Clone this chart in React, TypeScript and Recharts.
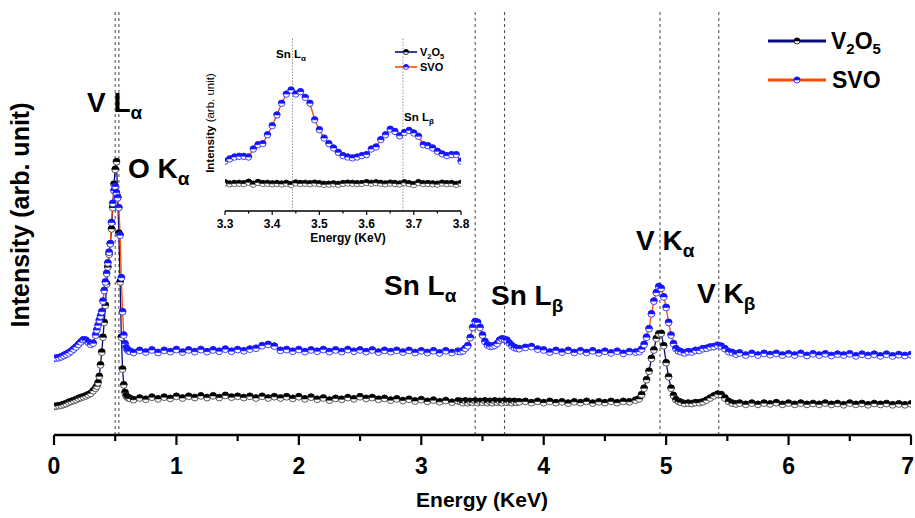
import React from 'react';
import { LineChart, Line, XAxis, YAxis, ReferenceLine } from 'recharts';

const FONT = "'Liberation Sans', Arial, Helvetica, sans-serif";

// ---- main spectrum (energy in keV, intensity in arbitrary units) ----
const energy = [
  0, 0.02, 0.04, 0.06, 0.08, 0.1, 0.12, 0.14, 0.16, 0.18, 0.2, 0.22, 0.24, 0.26, 0.28, 0.3, 0.32,
  0.34, 0.35, 0.36, 0.37, 0.38, 0.39, 0.4, 0.41, 0.42, 0.43, 0.44, 0.45, 0.46, 0.47, 0.48, 0.49, 0.5,
  0.51, 0.52, 0.53, 0.54, 0.55, 0.56, 0.57, 0.58, 0.59, 0.6, 0.61, 0.62,
  0.65, 0.7, 0.75, 0.8, 0.85, 0.9, 0.95,
  1.0, 1.05, 1.1, 1.15, 1.2, 1.25, 1.3, 1.35, 1.4, 1.45, 1.5, 1.55, 1.6, 1.65, 1.7, 1.75, 1.8, 1.85, 1.9, 1.95,
  2.0, 2.05, 2.1, 2.15, 2.2, 2.25, 2.3, 2.35, 2.4, 2.45, 2.5, 2.55, 2.6, 2.65, 2.7, 2.75, 2.8, 2.85, 2.9, 2.95,
  3.0, 3.05, 3.1, 3.15, 3.2, 3.25, 3.3,
  3.32, 3.34, 3.36, 3.38, 3.4, 3.42, 3.44, 3.46, 3.48, 3.5, 3.52, 3.54, 3.56, 3.58, 3.6, 3.62, 3.64, 3.66,
  3.68, 3.7, 3.72, 3.74, 3.76, 3.78, 3.8,
  3.85, 3.9, 3.95, 4.0, 4.05, 4.1, 4.15, 4.2, 4.25, 4.3, 4.35, 4.4, 4.45, 4.5, 4.55, 4.6, 4.65, 4.7, 4.75,
  4.78, 4.8, 4.82, 4.84, 4.86, 4.88, 4.9, 4.92, 4.94, 4.96, 4.98, 5.0, 5.02, 5.04, 5.06, 5.08, 5.1, 5.12,
  5.15, 5.18, 5.21, 5.24, 5.27, 5.3, 5.33, 5.36, 5.39, 5.42, 5.45, 5.48, 5.51, 5.54, 5.57, 5.6,
  5.65, 5.7, 5.75, 5.8, 5.85, 5.9, 5.95, 6.0, 6.05, 6.1, 6.15, 6.2, 6.25, 6.3, 6.35, 6.4, 6.45, 6.5,
  6.55, 6.6, 6.65, 6.7, 6.75, 6.8, 6.85, 6.9, 6.95, 7.0,
];

const v2o5Intensity = [
  6.7, 6.8, 6.9, 7.0, 7.2, 7.4, 7.7, 7.9, 8.1, 8.3, 8.6, 8.8, 9.0, 9.2, 9.5, 9.8, 10.4,
  11.0, 11.5, 12.3, 13.8, 16.5, 19.5, 23.0, 26.5, 30.5, 35.5, 39.5, 42.5, 45.0, 48.5, 53.5, 59.0, 62.5,
  64.3, 56.0, 47.5, 36.0, 23.0, 15.5, 11.8, 10.0, 9.2, 8.9, 8.7, 8.6,
  8.3, 8.7, 8.4, 8.9, 8.5, 8.9, 8.6,
  9.1, 8.7, 9.1, 8.8, 9.2, 8.8, 9.2, 8.8, 9.3, 8.9, 9.1, 8.8, 9.1, 8.7, 9.1, 8.7, 9.0, 8.7, 9.0, 8.6,
  9.0, 8.5, 8.9, 8.4, 8.7, 8.2, 8.6, 8.4, 8.8, 8.5, 9.0, 8.6, 8.8, 8.4, 8.6, 8.2, 8.5, 8.1, 8.4, 8.0,
  8.3, 7.9, 8.2, 7.8, 8.1, 7.7, 8.0,
  7.9, 7.6, 8.0, 7.6, 7.9, 7.7, 8.0, 7.6, 7.9, 7.7, 8.0, 7.6, 7.9, 7.6, 8.0, 7.7, 7.9, 7.6,
  8.0, 7.7, 7.9, 7.6, 7.9, 7.7, 7.8,
  7.9, 7.6, 7.9, 7.6, 7.9, 7.6, 7.8, 7.5, 7.8, 7.6, 7.9, 7.5, 7.8, 7.6, 7.9, 7.6, 7.9, 7.8, 8.2,
  8.5, 9.5, 11.0, 13.0, 15.0, 18.0, 20.0, 22.7, 23.8, 23.9, 21.0, 17.0, 13.7, 11.0, 9.3, 8.3, 7.9, 7.7,
  7.4, 7.5, 7.4, 7.6, 7.6, 7.8, 8.2, 8.7, 9.2, 9.6, 9.5, 8.7, 7.9, 7.5, 7.3, 7.5,
  7.2, 7.5, 7.2, 7.5, 7.3, 7.6, 7.2, 7.5, 7.2, 7.5, 7.2, 7.4, 7.2, 7.5, 7.2, 7.4, 7.1, 7.5,
  7.2, 7.4, 7.1, 7.4, 7.2, 7.4, 7.1, 7.3, 7.1, 7.3,
];

const svoIntensity = [
  18.0, 18.1, 18.2, 18.4, 18.7, 19.0, 19.3, 19.7, 20.2, 20.7, 21.3, 21.9, 22.4, 22.3, 21.8, 21.3, 21.6,
  23.5, 24.7, 25.8, 27.0, 28.0, 29.0, 31.5, 34.0, 36.0, 38.0, 40.5, 43.0, 45.0, 50.0, 54.5, 57.5, 58.5,
  57.0, 55.8, 53.5, 47.0, 37.0, 29.0, 23.5, 21.5, 20.5, 20.0, 19.8, 19.7,
  19.4, 19.9, 19.5, 20.0, 19.4, 19.9, 19.6,
  20.1, 19.5, 20.0, 19.6, 20.1, 19.6, 20.0, 19.7, 20.2, 19.7, 20.1, 19.8, 20.2, 20.4, 21.0, 21.3, 20.9, 19.9, 20.1, 19.7,
  20.1, 19.6, 20.0, 19.7, 20.1, 19.6, 20.0, 19.6, 20.1, 19.7, 20.0, 19.6, 20.0, 19.5, 19.9, 19.6, 19.9, 19.5, 19.9, 19.4,
  19.8, 19.4, 19.8, 19.3, 19.8, 19.4, 19.7,
  19.6, 19.8, 20.4, 21.0, 22.9, 25.3, 26.7, 26.5, 25.3, 23.5, 22.0, 21.2, 20.9, 20.9, 21.1, 21.5, 22.3, 22.6,
  22.5, 22.3, 21.6, 21.0, 20.6, 20.4, 20.3,
  20.6, 20.8, 20.2, 20.0, 19.5, 19.9, 19.5, 19.9, 19.4, 19.8, 19.4, 19.8, 19.3, 19.7, 19.3, 19.7, 19.2, 19.6, 19.5,
  19.6, 20.2, 21.3, 23.0, 25.0, 28.5, 31.5, 33.5, 34.9, 34.5, 32.5, 30.0, 26.5, 23.5, 21.5, 20.3, 19.8, 19.6,
  19.3, 19.6, 19.5, 19.9, 19.9, 20.3, 20.4, 20.7, 20.8, 21.1, 20.9, 20.3, 19.6, 19.4, 19.0, 19.3,
  18.8, 19.2, 18.8, 19.2, 18.9, 19.2, 18.8, 19.1, 18.8, 19.2, 18.7, 19.1, 18.8, 19.1, 18.7, 19.0, 18.8, 19.1,
  18.6, 19.0, 18.7, 19.0, 18.6, 19.0, 18.6, 18.9, 18.7, 18.9,
];

// ---- inset (Sn L region) ----
const insetEnergy = [
  3.3, 3.31, 3.32, 3.33, 3.34, 3.35, 3.36, 3.37, 3.38, 3.39,
  3.4, 3.41, 3.42, 3.43, 3.44, 3.45, 3.46, 3.47, 3.48, 3.49,
  3.5, 3.51, 3.52, 3.53, 3.54, 3.55, 3.56, 3.57, 3.58, 3.59,
  3.6, 3.61, 3.62, 3.63, 3.64, 3.65, 3.66, 3.67, 3.68, 3.69,
  3.7, 3.71, 3.72, 3.73, 3.74, 3.75, 3.76, 3.77, 3.78, 3.79, 3.8,
];
const insetV2O5 = [
  16.2, 15.6, 15.8, 15.9, 15.7, 16.5, 15.4, 16.4, 15.8, 15.9,
  15.6, 15.8, 15.5, 15.9, 15.2, 16.1, 15.8, 15.9, 15.7, 16.0,
  15.7, 15.3, 15.4, 15.6, 15.3, 15.8, 16.0, 15.9, 15.7, 15.8,
  16.3, 15.9, 16.2, 15.9, 15.6, 16.0, 15.8, 15.5, 16.2, 15.7,
  15.2, 16.3, 15.7, 15.8, 15.6, 15.4, 16.0, 15.7, 15.8, 15.3, 15.9,
];
const insetSVO = [
  28.6, 29.9, 31.0, 31.4, 31.4, 31.0, 35.6, 38.1, 38.7, 43.8,
  49.0, 55.2, 61.9, 67.2, 69.5, 67.2, 68.6, 65.3, 61.9, 52.4,
  46.7, 41.9, 38.7, 36.2, 33.7, 31.8, 31.0, 30.5, 31.0, 31.8,
  32.4, 35.6, 36.8, 41.0, 43.8, 47.0, 45.7, 43.2, 45.1, 46.3,
  44.8, 42.9, 38.1, 37.5, 36.2, 34.3, 32.8, 31.8, 32.4, 32.4, 28.6,
];

const mainTicks = [0, 0.5, 1, 1.5, 2, 2.5, 3, 3.5, 4, 4.5, 5, 5.5, 6, 6.5, 7];
const insetTicks = [3.3, 3.35, 3.4, 3.45, 3.5, 3.55, 3.6, 3.65, 3.7, 3.75, 3.8];
const peakEnergies = [0.5, 0.53, 3.44, 3.68, 4.95, 5.43];
const insetPeakEnergies = [3.443, 3.677];

const mainData = energy.map((e, i) => ({ e, v2o5: v2o5Intensity[i], svo: svoIntensity[i] }));
const insetData = insetEnergy.map((e, i) => ({ e, v2o5: insetV2O5[i], svo: insetSVO[i] }));

const V2O5_LINE = '#0b0b80';
const V2O5_DOT = '#000000';
const SVO_LINE = '#ff4a00';
const SVO_DOT = '#1414ff';

function HalfDot({ cx, cy, r, top, edge }: any) {
  if (cx == null || cy == null || isNaN(cx) || isNaN(cy)) return null;
  return (
    <g>
      <circle cx={cx} cy={cy} r={r} fill="#ffffff" stroke={edge} strokeWidth={0.8} />
      <path d={`M${cx - r},${cy} A${r},${r} 0 0 1 ${cx + r},${cy} Z`} fill={top} stroke={top} strokeWidth={0.6} />
    </g>
  );
}

const makeDot = (r: number, top: string, edge: string) => (p: any) => (
  <HalfDot key={`dot-${p.dataKey}-${p.index}`} cx={p.cx} cy={p.cy} r={r} top={top} edge={edge} />
);

const MainTick = (p: any) => {
  const v = p.payload.value;
  const major = Math.abs(v - Math.round(v)) < 1e-6;
  const isLast = Math.abs(v - 7) < 1e-6;
  return (
    <g>
      <line x1={p.x} x2={p.x} y1={p.y} y2={p.y + (major ? 10 : 6)} stroke="#000" strokeWidth={2.2} />
      {major ? (
        <text
          x={isLast ? p.x + 3 : p.x}
          y={p.y + 39}
          textAnchor={isLast ? 'end' : 'middle'}
          fontFamily={FONT}
          fontWeight={700}
          fontSize={23}
          fill="#000"
        >
          {v}
        </text>
      ) : null}
    </g>
  );
};

const InsetTick = (p: any) => {
  const v = p.payload.value;
  const major = Math.abs(v * 10 - Math.round(v * 10)) < 1e-6;
  return (
    <g>
      <line x1={p.x} x2={p.x} y1={p.y} y2={p.y + (major ? 4 : 2.5)} stroke="#000" strokeWidth={1.2} />
      {major ? (
        <text x={p.x} y={p.y + 17} textAnchor="middle" fontFamily={FONT} fontWeight={700} fontSize={12} fill="#000">
          {v.toFixed(1)}
        </text>
      ) : null}
    </g>
  );
};

const frameAxis = { stroke: '#000', strokeWidth: 2.5 };
const insetFrame = { stroke: '#000', strokeWidth: 1.5 };

function PeakLabel({ x, y, main, sub, size, subSize, subDy }: any) {
  return (
    <text x={x} y={y} fontFamily={FONT} fontWeight={700} fontSize={size} fill="#000">
      {main}
      <tspan fontSize={subSize} dy={subDy}>{sub}</tspan>
    </text>
  );
}

export default function App() {
  return (
    <div style={{ position: 'absolute', left: 0, top: 0, width: 915, height: 518, background: '#fff' }}>
      <LineChart width={915} height={518} data={mainData} margin={{ top: 10, right: 4, left: 54, bottom: 0 }}>
        <XAxis
          dataKey="e"
          type="number"
          domain={[0, 7]}
          ticks={mainTicks}
          interval={0}
          height={83}
          tickSize={0}
          tickMargin={0}
          tickLine={false}
          tick={MainTick}
          axisLine={frameAxis}
          allowDataOverflow
        />
        <XAxis xAxisId="top" orientation="top" type="number" domain={[0, 7]} height={0} tick={false} tickLine={false} axisLine={frameAxis} />
        <YAxis type="number" domain={[0, 100]} width={0} tick={false} tickLine={false} axisLine={frameAxis} allowDataOverflow />
        <YAxis yAxisId="right" orientation="right" type="number" domain={[0, 100]} width={0} tick={false} tickLine={false} axisLine={frameAxis} />
        {peakEnergies.map((e) => (
          <ReferenceLine key={`pk-${e}`} x={e} stroke="#555" strokeDasharray="3 3" strokeWidth={1.1} />
        ))}
        <Line
          dataKey="v2o5"
          stroke={V2O5_LINE}
          strokeWidth={1.3}
          dot={makeDot(3.4, V2O5_DOT, '#333')}
          isAnimationActive={false}
        />
        <Line
          dataKey="svo"
          stroke={SVO_LINE}
          strokeWidth={1.3}
          dot={makeDot(3.4, SVO_DOT, SVO_DOT)}
          isAnimationActive={false}
        />
      </LineChart>

      <div style={{ position: 'absolute', left: 200, top: 30 }}>
        <LineChart width={270} height={220} data={insetData} margin={{ top: 7, right: 9, left: 25, bottom: 0 }}>
          <XAxis
            dataKey="e"
            type="number"
            domain={[3.3, 3.8]}
            ticks={insetTicks}
            interval={0}
            height={39}
            tickSize={0}
            tickMargin={0}
            tickLine={false}
            tick={InsetTick}
            axisLine={insetFrame}
            allowDataOverflow
          />
          <XAxis xAxisId="top" orientation="top" type="number" domain={[3.3, 3.8]} height={0} tick={false} tickLine={false} axisLine={insetFrame} />
          <YAxis type="number" domain={[0, 100]} width={0} tick={false} tickLine={false} axisLine={insetFrame} allowDataOverflow />
          <YAxis yAxisId="right" orientation="right" type="number" domain={[0, 100]} width={0} tick={false} tickLine={false} axisLine={insetFrame} />
          {insetPeakEnergies.map((e) => (
            <ReferenceLine key={`ipk-${e}`} x={e} stroke="#888" strokeDasharray="1.5 1.5" strokeWidth={0.9} />
          ))}
          <Line dataKey="v2o5" stroke={V2O5_LINE} strokeWidth={1.2} dot={makeDot(3.2, V2O5_DOT, '#444')} isAnimationActive={false} />
          <Line dataKey="svo" stroke={SVO_LINE} strokeWidth={1.4} dot={makeDot(3.2, SVO_DOT, SVO_DOT)} isAnimationActive={false} />
        </LineChart>
      </div>

      <svg width={915} height={518} style={{ position: 'absolute', left: 0, top: 0, pointerEvents: 'none' }}>
        {/* main peak labels */}
        <PeakLabel x={87} y={112} main="V L" sub="α" size={28} subSize={19} subDy={7} />
        <PeakLabel x={128} y={178} main="O K" sub="α" size={28} subSize={19} subDy={7} />
        <PeakLabel x={384} y={295} main="Sn L" sub="α" size={28} subSize={19} subDy={7} />
        <PeakLabel x={491} y={305} main="Sn L" sub="β" size={28} subSize={19} subDy={7} />
        <PeakLabel x={636} y={250} main="V K" sub="α" size={28} subSize={19} subDy={7} />
        <PeakLabel x={697} y={303} main="V K" sub="β" size={28} subSize={19} subDy={7} />

        {/* main axis titles */}
        <text x={482} y={507} textAnchor="middle" fontFamily={FONT} fontWeight={700} fontSize={21} fill="#000">
          Energy (KeV)
        </text>
        <text transform="translate(29,215) rotate(-90)" textAnchor="middle" fontFamily={FONT} fontWeight={700} fontSize={25} fill="#000">
          Intensity (arb. unit)
        </text>

        {/* main legend */}
        <line x1={768} x2={826} y1={41} y2={41} stroke={V2O5_LINE} strokeWidth={3} />
        <HalfDot cx={797} cy={41} r={3} top={V2O5_DOT} edge="#000" />
        <text x={831} y={49} fontFamily={FONT} fontWeight={700} fontSize={23} fill="#000">
          V<tspan fontSize={15} dy={5}>2</tspan>
          <tspan dy={-5}>O</tspan>
          <tspan fontSize={15} dy={5}>5</tspan>
        </text>
        <line x1={768} x2={826} y1={80} y2={80} stroke={SVO_LINE} strokeWidth={3} />
        <HalfDot cx={797} cy={80} r={3} top={SVO_DOT} edge={SVO_DOT} />
        <text x={832} y={88} fontFamily={FONT} fontWeight={700} fontSize={23} fill="#000">
          SVO
        </text>

        {/* inset labels */}
        <PeakLabel x={276} y={58} main="Sn L" sub="α" size={11.5} subSize={8} subDy={3} />
        <PeakLabel x={404} y={121} main="Sn L" sub="β" size={11.5} subSize={8} subDy={3} />
        <text x={348} y={242} textAnchor="middle" fontFamily={FONT} fontWeight={700} fontSize={12} fill="#000">
          Energy (KeV)
        </text>
        <text transform="translate(214,123) rotate(-90)" textAnchor="middle" fontFamily={FONT} fontSize={11.5} fill="#000">
          <tspan fontWeight={700}>Intensity</tspan> (arb. unit)
        </text>

        {/* inset legend */}
        <line x1={395} x2={417} y1={52} y2={52} stroke={V2O5_LINE} strokeWidth={1.6} />
        <HalfDot cx={406} cy={52} r={2.5} top={V2O5_DOT} edge="#000" />
        <text x={420} y={56} fontFamily={FONT} fontWeight={700} fontSize={11} fill="#000">
          V<tspan fontSize={7.5} dy={2.5}>2</tspan>
          <tspan dy={-2.5}>O</tspan>
          <tspan fontSize={7.5} dy={2.5}>5</tspan>
        </text>
        <line x1={395} x2={417} y1={67} y2={67} stroke={SVO_LINE} strokeWidth={1.6} />
        <HalfDot cx={406} cy={67} r={2.5} top={SVO_DOT} edge={SVO_DOT} />
        <text x={420} y={71} fontFamily={FONT} fontWeight={700} fontSize={11} fill="#000">
          SVO
        </text>
      </svg>
    </div>
  );
}
